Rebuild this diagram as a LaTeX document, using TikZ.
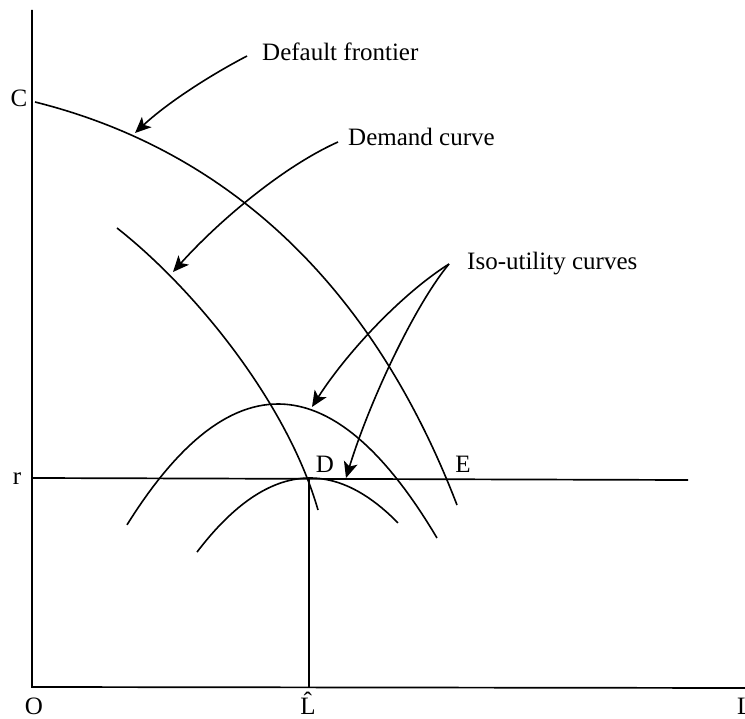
\documentclass[tikz,border=0pt]{standalone}
\usepackage{fontspec}
\setmainfont{Liberation Serif}
\usetikzlibrary{arrows.meta}
\begin{document}
\begin{tikzpicture}[x=1pt,y=-1pt,
  curve/.style={line width=1.6pt},
  axis/.style={line width=1.7pt},
  pointer/.style={line width=1.6pt,-{Stealth[length=16pt,width=14pt,inset=4pt]}},
  lbl/.style={font=\fontsize{25}{29}\selectfont, inner sep=0pt, anchor=base},
  txt/.style={font=\fontsize{25}{29}\selectfont, inner sep=0pt, anchor=base west}]
\useasboundingbox (0,0) rectangle (745,719);
% axes
\coordinate (top) at (32,10);
\coordinate (O) at (32,687);
\coordinate (xend) at (745,688);
\draw[axis] (top) -- (O) -- (xend);
% r line and L-hat line
\coordinate (r0) at (32,478);
\coordinate (r1) at (688,480);
\draw[axis] (r0) -- (r1);
\coordinate (Dpt) at (309,478);
\coordinate (Lh) at (309,687);
\draw[axis] (Dpt) -- (Lh);
% default frontier
\coordinate (Cpt) at (35,102);
\coordinate (dfend) at (457,505);
\draw[curve] (Cpt) .. controls (215,147) and (367,271) .. (dfend);
% demand curve
\coordinate (dmA) at (117,228);
\coordinate (dmB) at (318,510);
\draw[curve] (dmA) .. controls (197,291) and (288,405) .. (dmB);
% iso-utility curves
\draw[curve] plot[domain=127:437,samples=60] (\x,{404+(0.0728*(\x-278))^2});
\draw[curve] plot[domain=197:398,samples=60] (\x,{478+(0.07616*(\x-310))^2});
% labels
\node[lbl] (C) at (19,107) {C};
\node[lbl] (r) at (17,484) {r};
\node[lbl] (Olab) at (34,714) {O};
\node[lbl] (Lhat) at (308,714) {\^{L}};
\node[txt] (Lax) at (737,714) {L};
\node[lbl] (D) at (325,472) {D};
\node[lbl] (E) at (463,472) {E};
\node[txt] (df) at (262,61) {Default frontier};
\node[txt] (dc) at (348,146) {Demand curve};
\node[txt] (iu) at (467,270) {Iso-utility curves};
% arrows
\coordinate (dfs) at (247,56);
\coordinate (dft) at (135,133);
\coordinate (dcs) at (338,142);
\coordinate (dct) at (173,272);
\coordinate (ius) at (449,264);
\coordinate (iut1) at (312,407);
\coordinate (iut2) at (346,478);
\draw[pointer] (dfs) .. controls (205,78) and (165,105) .. (dft);
\draw[pointer] (dcs) .. controls (280,168) and (215,225) .. (dct);
\draw[pointer] (ius) .. controls (400,295) and (345,355) .. (iut1);
\draw[pointer] (ius) .. controls (415,305) and (370,400) .. (iut2);
\end{tikzpicture}
\end{document}
